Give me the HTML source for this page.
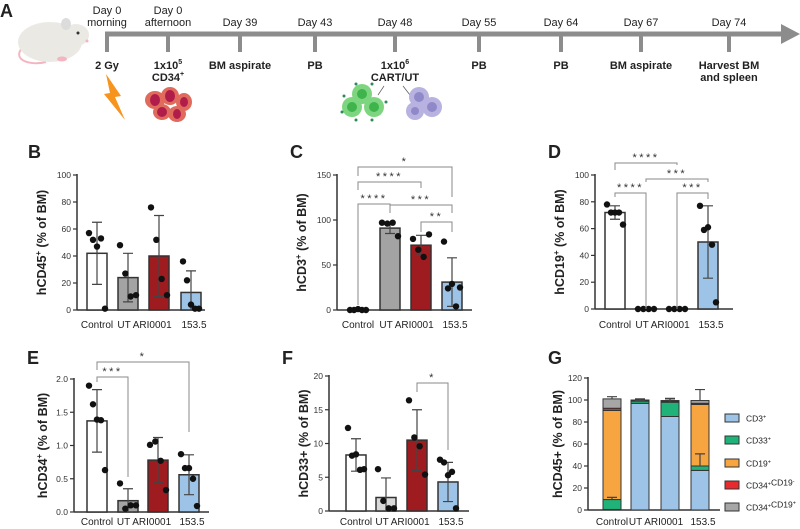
<!DOCTYPE html>
<html><head><meta charset="utf-8"><style>
html,body{margin:0;padding:0;background:#fff;}
svg{display:block;font-family:"Liberation Sans",sans-serif;}
</style></head><body>
<svg id="fig" width="800" height="529" viewBox="0 0 800 529">
<g id="timeline">
<text x="0" y="17" font-size="18" font-weight="bold" fill="#222">A</text>
<g>
<path d="M22 48 C12 60 30 66 46 62" stroke="#f3b6c0" stroke-width="2" fill="none"/>
<ellipse cx="50" cy="42" rx="32" ry="20" fill="#ebe9e4"/>
<ellipse cx="76" cy="35" rx="13" ry="11" fill="#ebe9e4"/>
<ellipse cx="66" cy="24" rx="5" ry="6" fill="#dcdcdc"/>
<circle cx="78" cy="33" r="1.5" fill="#333"/>
<circle cx="87" cy="41" r="1.5" fill="#f3b6c0"/>
<ellipse cx="62" cy="59" rx="5" ry="2.5" fill="#f3b6c0"/>
</g>
<rect x="105" y="31.5" width="678" height="5" fill="#8c8c8c"/>
<polygon points="781,24 800,34 781,44" fill="#8c8c8c"/>
<g id="tl-items"></g>
<g><polygon points="106,74 121,96 115,97 125,120 104,94 110,93" fill="#f7941d"/></g>
<g>
<ellipse cx="155" cy="100" rx="10" ry="9" fill="#e06a5c"/><ellipse cx="155" cy="100" rx="5" ry="6" fill="#b01d4a"/>
<ellipse cx="170" cy="96" rx="9" ry="9" fill="#e06a5c"/><ellipse cx="170" cy="96" rx="5" ry="6" fill="#b01d4a"/>
<ellipse cx="184" cy="102" rx="8" ry="9" fill="#e06a5c"/><ellipse cx="184" cy="102" rx="4" ry="5" fill="#b01d4a"/>
<ellipse cx="162" cy="112" rx="9" ry="8" fill="#e06a5c"/><ellipse cx="162" cy="112" rx="5" ry="5" fill="#b01d4a"/>
<ellipse cx="177" cy="114" rx="9" ry="8" fill="#e06a5c"/><ellipse cx="177" cy="114" rx="4" ry="5" fill="#b01d4a"/>
</g>
<g>
<circle cx="362" cy="94" r="10" fill="#7dd67f"/><circle cx="362" cy="94" r="5" fill="#3fb44c"/>
<circle cx="352" cy="107" r="10" fill="#7dd67f"/><circle cx="352" cy="107" r="5" fill="#3fb44c"/>
<circle cx="374" cy="107" r="10" fill="#7dd67f"/><circle cx="374" cy="107" r="5" fill="#3fb44c"/>
<g fill="#2e8b57"><circle cx="344" cy="96" r="1.5"/><circle cx="342" cy="112" r="1.5"/><circle cx="356" cy="120" r="1.5"/><circle cx="372" cy="120" r="1.5"/><circle cx="386" cy="102" r="1.5"/><circle cx="372" cy="84" r="1.5"/><circle cx="356" cy="84" r="1.5"/></g>
<line x1="378" y1="95" x2="384" y2="86" stroke="#555" stroke-width="0.7"/><line x1="403" y1="86" x2="410" y2="95" stroke="#555" stroke-width="0.7"/>
</g>
<g>
<circle cx="419" cy="97" r="10" fill="#b7b2e0"/><circle cx="419" cy="97" r="5" fill="#9089c9"/>
<circle cx="415" cy="111" r="9" fill="#b7b2e0"/><circle cx="415" cy="111" r="4" fill="#9089c9"/>
<circle cx="432" cy="107" r="10" fill="#b7b2e0"/><circle cx="432" cy="107" r="5" fill="#9089c9"/>
</g>
</g>
<g id="charts"></g>
</svg>
<script>
// ---------- timeline data ----------
const tlTop = [["Day 0","morning"],["Day 0","afternoon"],["Day 39"],["Day 43"],["Day 48"],["Day 55"],["Day 64"],["Day 67"],["Day 74"]];
const tlBottom = [["2 Gy"],["1x10^5","CD34+"],["BM aspirate"],["PB"],["1x10^6","CART/UT"],["PB"],["PB"],["BM aspirate"],["Harvest BM","and spleen"]];
const tlX = [107,168,240,315,395,479,561,641,729];

// ---------- chart data ----------
const groups = ["Control","UT","ARI0001","153.5"];
const bMeans = [42,24,40,13];
const bSD = [23,18,30,16];
const bPts = [[57,52,47,53,1],[48,27,10,11],[76,52,23,11],[36,22,4,1,1]];
const bTicks = [0,20,40,60,80,100];
const cMeans = [0.5,91,72,31];
const cSD = [0.5,6,11,27];
const cPts = [[0,0,1,0,0],[97,96,97,82],[79,67,59,84],[76,24,29,4,25]];
const cTicks = [0,50,100,150];
const dMeans = [72,0,0,50];
const dSD = [5,0,0,27];
const dPts = [[78,72,72,72,63],[0,0,0,0],[0,0,0,0],[77,59,61,48,5]];
const dTicks = [0,20,40,60,80,100];
const eMeans = [1.37,0.17,0.78,0.56];
const eSD = [0.47,0.18,0.34,0.30];
const ePts = [[1.9,1.62,1.39,1.38,0.63],[0.43,0.05,0.1,0.1],[1.01,1.06,0.77,0.33],[0.87,0.66,0.66,0.5,0.09]];
const eTicks = [0,0.5,1.0,1.5,2.0];
const eTickLabels = ["0.0","0.5","1.0","1.5","2.0"];
const fMeans = [8.3,2.0,10.5,4.3];
const fSD = [2.4,2.9,4.5,2.9];
const fPts = [[12.3,8.2,8.4,6.1,6.2],[6.2,1.5,0.4,0.4],[16.4,10.9,9.6,5.4],[7.6,7.2,5.3,5.8,0.4]];
const fTicks = [0,5,10,15,20];
const gSeries = ["CD3+","CD33+","CD19+","CD34+CD19-","CD34+CD19+"];
const gCD3 = [0.5,97,85,36];
const gCD33 = [9,2,13,4];
const gCD19 = [81,0.3,0.3,56];
const gCD34n = [2,0.3,0.3,1];
const gCD34p = [8.5,0.4,0.9,2.5];
const gErrSeg = [2,0.5,3,11];
const gErrTop = [2,1,2,10];
const gTicks = [0,20,40,60,80,100,120];

const NS="http://www.w3.org/2000/svg";
const root=document.getElementById('charts');
function mk(tag,attrs,parent){const e=document.createElementNS(NS,tag);for(const k in attrs)e.setAttribute(k,attrs[k]);(parent||root).appendChild(e);return e;}

// timeline items
const tlg=document.getElementById('tl-items');
tlX.forEach((x,i)=>{
  const t=mk('rect',{x:x-2,y:34,width:4,height:18,fill:'#8c8c8c'},tlg);
  
  
  const lines=tlTop[i];
  lines.forEach((s,j)=>{
    const y= lines.length==2 ? 10+j*12 : 22;
    const tx=mk('text',{x:x,y:y+4,'font-size':11,'text-anchor':'middle',fill:'#222'},tlg);
    tx.textContent=s;
    
    
  });
  tlBottom[i].forEach((s,j)=>{
    const tx=mk('text',{x:x,y:69+j*12,'font-size':11,'font-weight':'bold','text-anchor':'middle',fill:'#222'},tlg);
    const m=s.match(/^(.*?)\^(.*)$/);
    if(m){tx.textContent=m[1];const sp=mk('tspan',{'font-size':7,dy:-5},tx);sp.textContent=m[2];}
    else if(s.endsWith('+')){tx.textContent=s.slice(0,-1);const sp=mk('tspan',{'font-size':7,dy:-5},tx);sp.textContent='+';}
    else tx.textContent=s;
    
    
  });
});

function letter(ch,x,y){const t=mk('text',{x:x,y:y,'font-size':18,'font-weight':'bold',fill:'#222'});t.textContent=ch;
  
  }
letter('B',28,158);letter('C',290,158);letter('D',548,158);
letter('E',27,364);letter('F',282,364);letter('G',548,364);

function axes(p){
  const g=mk('g',{});
  
  
  const y=v=>p.y0-(v-p.min)/(p.max-p.min)*(p.y0-p.y1);
  const ax=mk('line',{x1:p.ax,y1:p.y1-1,x2:p.ax,y2:p.y0,stroke:'#333','stroke-width':1.5},g);
  
  
  const xa=mk('line',{x1:p.ax,y1:p.y0,x2:p.xend,y2:p.y0,stroke:'#333','stroke-width':1.5},g);
  
  
  p.ticks.forEach((t,i)=>{
    mk('line',{x1:p.ax-4,y1:y(t),x2:p.ax,y2:y(t),stroke:'#333','stroke-width':1.2},g);
    const tx=mk('text',{x:p.ax-6,y:y(t)+3,'font-size':8.5,'text-anchor':'end',fill:'#333'},g);
    tx.textContent=p.tickLabels?p.tickLabels[i]:t;
    
    
  });
  const lbl=mk('text',{x:0,y:0,'font-size':12.5,'font-weight':'bold','text-anchor':'middle',fill:'#222',transform:`translate(${p.lx},${(p.y0+p.y1)/2}) rotate(-90)`},g);
  lbl.textContent=p.label[0];
  if(p.label[1]){const s=mk('tspan',{'font-size':8,dy:-5},lbl);s.textContent=p.label[1];const s2=mk('tspan',{dy:5},lbl);s2.textContent=p.label[2];}
  
  
  const xt=mk('text',{x:p.xs[0],y:p.ly,'font-size':10,'text-anchor':'middle',fill:'#222'},g);xt.textContent=groups[0];
  
  const xt2=mk('text',{x:(p.xs[1]+p.xs[2])/2+1,y:p.ly,'font-size':10,'text-anchor':'middle',fill:'#222'},g);xt2.textContent=groups[1]+' '+groups[2];
  
  const xt3=mk('text',{x:p.xs[3]+3,y:p.ly,'font-size':10,'text-anchor':'middle',fill:'#222'},g);xt3.textContent=groups[3];
  
  return {g,y};
}

function barPanel(p){
  const {g,y}=axes(p);
  const bw=20;
  p.means.forEach((m,i)=>{
    const cx=p.xs[i];
    const r=mk('rect',{x:cx-bw/2,y:y(m),width:bw,height:Math.max(0,p.y0-y(m)),fill:p.colors[i],stroke:'#333','stroke-width':1.5},g);
    
    
    const sd=p.sd[i];
    if(sd>0){
      const lo=Math.max(p.min,m-sd),hi=m+sd;
      const eb=mk('path',{d:`M${cx} ${y(lo)}V${y(hi)}M${cx-5} ${y(hi)}H${cx+5}M${cx-5} ${y(lo)}H${cx+5}`,stroke:'#444','stroke-width':1.2,fill:'none'},g);
      
      
    }
    const pts=p.pts[i],n=pts.length;
    pts.forEach((v,j)=>{
      const off=n==1?0:(-8+16*j/(n-1));
      const c=mk('circle',{cx:cx+off,cy:y(v),r:3.2,fill:'#111'},g);
      
      
    });
  });
  (p.sig||[]).forEach(s=>{
    const x1=p.xs[s[0]],x2=p.xs[s[1]];
    const br=mk('path',{d:`M${x1} ${s[3]}V${s[2]}H${x2}V${s[4]}`,stroke:'#888','stroke-width':1,fill:'none'},g);
    
    
    const t=mk('text',{x:(x1+x2)/2,y:s[2]-2,'font-size':11,'text-anchor':'middle',fill:'#333','letter-spacing':2.5},g);
    t.textContent=s[5];
    
    
  });
}
const C4=['#ffffff','#a3a3a3','#9e1b20','#9dc3e6'];
barPanel({name:'panel-b-hcd45',ax:77,y0:310,y1:175,min:0,max:100,ticks:bTicks,xend:205,xs:[97,128,159,191],ly:328,lx:46,
  label:['hCD45','+',' (% of BM)'],means:bMeans,sd:bSD,pts:bPts,colors:C4});
barPanel({name:'panel-c-hcd3',ax:337,y0:310,y1:175,min:0,max:150,ticks:cTicks,xend:472,xs:[358,390,421,452],ly:328,lx:306,
  label:['hCD3','+',' (% of BM)'],means:cMeans,sd:cSD,pts:cPts,colors:C4,
  sig:[[0,3,167,176,197,'*'],[0,2,182,190,188,'****'],[0,1,204,305,213,'****'],[1,3,205,213,213,'***'],[2,3,222,232,232,'**']]});
barPanel({name:'panel-d-hcd19',ax:595,y0:309,y1:175,min:0,max:100,ticks:dTicks,xend:733,xs:[615,646,677,708],ly:328,lx:564,
  label:['hCD19','+',' (% of BM)'],means:dMeans,sd:dSD,pts:dPts,colors:C4,
  sig:[[0,2,163,170,165,'****'],[1,3,179,182,182,'***'],[0,1,193,197,309,'****'],[2,3,193,309,199,'***']]});
barPanel({name:'panel-e-hcd34',ax:74,y0:512,y1:379,min:0,max:2,ticks:eTicks,tickLabels:eTickLabels,xend:209,xs:[97,128,158,189],ly:525,lx:47,
  label:['hCD34','+',' (% of BM)'],means:eMeans,sd:eSD,pts:ePts,colors:C4,
  sig:[[0,3,362,370,432,'*'],[0,1,377,382,477,'***']]});
barPanel({name:'panel-f-hcd33',ax:329,y0:511,y1:376,min:0,max:20,ticks:fTicks,xend:469,xs:[356,386,417,448],ly:525,lx:308,
  label:['hCD33+ (% of BM)'],means:fMeans,sd:fSD,pts:fPts,colors:['#ffffff','#d9d9d9','#9e1b20','#9dc3e6'],
  sig:[[2,3,383,392,450,'*']]});

// panel G stacked
(function(){
  const p={name:'panel-g-stacked',ax:588,y0:510,y1:378,min:0,max:120,ticks:gTicks,xend:720,xs:[612,640,670,700],ly:525,lx:562,label:['hCD45+ (% of BM)']};
  const {g,y}=axes(p);
  const cols=['#9dc3e6','#1fb37a','#f7a541','#e8292e','#a6a6a6'];
  const segs=[gCD3,gCD33,gCD19,gCD34n,gCD34p];
  p.xs.forEach((cx,i)=>{
    let base=0;
    segs.forEach((arr,k)=>{
      const v=arr[i];
      const r=mk('rect',{x:cx-9,y:y(base+v),width:18,height:y(base)-y(base+v),fill:cols[k],stroke:'#333','stroke-width':1},g);
      
      
      base+=v;
    });
    const seg=gCD3[i]+gCD33[i];
    const e1=mk('path',{d:`M${cx} ${y(seg)}V${y(seg+gErrSeg[i])}M${cx-5} ${y(seg+gErrSeg[i])}H${cx+5}`,stroke:'#444','stroke-width':1.2,fill:'none'},g);
    
    
    const e2=mk('path',{d:`M${cx} ${y(base)}V${y(base+gErrTop[i])}M${cx-5} ${y(base+gErrTop[i])}H${cx+5}`,stroke:'#444','stroke-width':1.2,fill:'none'},g);
    
    
  });
  const ly=[418,440,463,485,507];
  gSeries.forEach((s,k)=>{
    const r=mk('rect',{x:725,y:ly[k]-4,width:14,height:8,fill:cols[k],stroke:'#333','stroke-width':1},g);
    
    
    const t=mk('text',{x:746,y:ly[k]+3.5,'font-size':8.5,fill:'#222'},g);
    const parts=s.match(/[A-Z0-9]+[+-]/g);
    parts.forEach((pt,j)=>{const a=mk('tspan',{},t);a.textContent=pt.slice(0,-1);const b=mk('tspan',{'font-size':5.5,dy:-3},t);b.textContent=pt.slice(-1);const c=mk('tspan',{dy:3},t);c.textContent='';});
    
    
  });
})();
</script>
</body></html>
